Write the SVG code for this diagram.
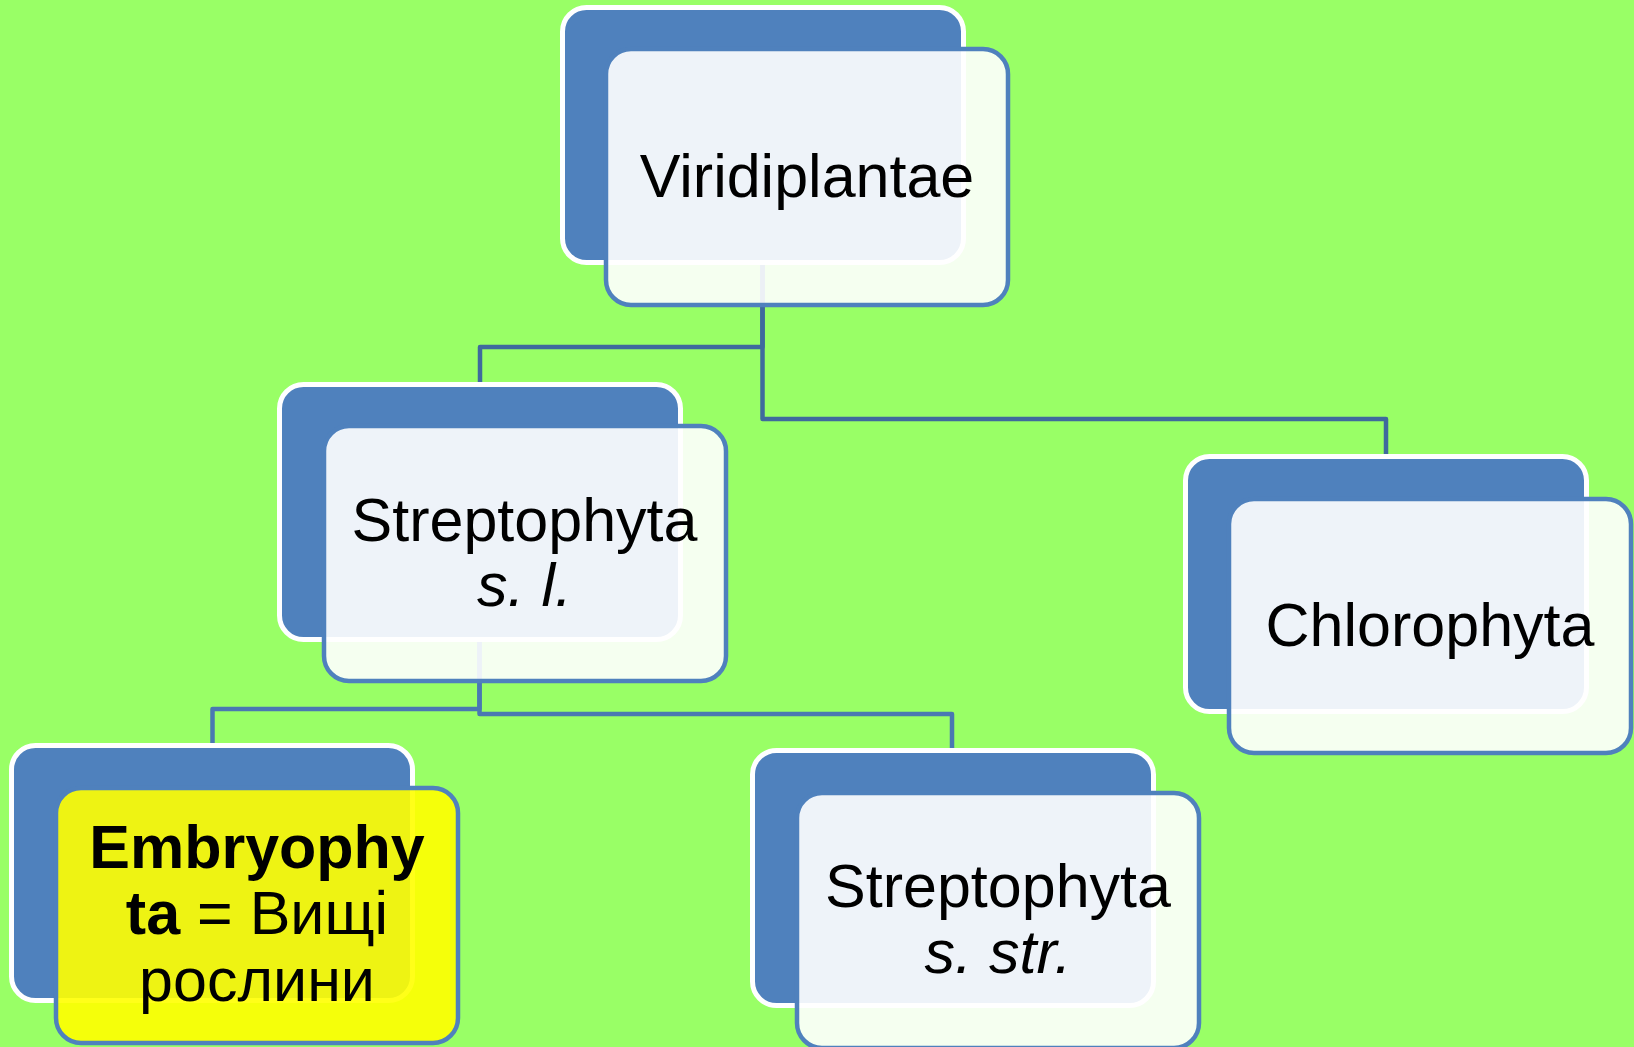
<svg xmlns="http://www.w3.org/2000/svg" width="1634" height="1047" viewBox="0 0 1634 1047">
<style>
.back{fill:#4F81BD;stroke:#FFFFFF;stroke-width:5}
.front{fill:#FFFFFF;fill-opacity:0.9;stroke:#4F81BD;stroke-width:4.5}
.front.hl{fill:#FFFF00}
.conn{fill:none;stroke-width:4.5;stroke-linejoin:round}
.c1{stroke:#3F6A9D}
.c2{stroke:#4A78B2}
text{font-family:"Liberation Sans",Arial,sans-serif;font-size:61px;fill:#000000;text-anchor:middle}
.it{font-style:italic}
.b{font-weight:bold}
</style>
<rect width="1634" height="1047" fill="#99FF66"/>
<g id="connectors">
<path class="conn c1" d="M762.5,265 V347 H480 V382"/>
<path class="conn c1" d="M762.5,265 V419 H1386 V454"/>
<path class="conn c2" d="M479.5,641 V709 H212.5 V743"/>
<path class="conn c2" d="M479.5,641 V714 H952 V748"/>
</g>
<g id="node-viridiplantae">
<rect class="back" x="562.5" y="7.5" width="401" height="255" rx="24"/>
<rect class="front" x="606" y="49" width="402" height="256" rx="25"/>
<text x="807" y="197">Viridiplantae</text>
</g>
<g id="node-streptophyta-sl">
<rect class="back" x="279.5" y="384.5" width="401" height="255" rx="24"/>
<rect class="front" x="324" y="426" width="402" height="255" rx="25"/>
<text x="524.5" y="541">Streptophyta</text>
<text class="it" x="524.5" y="606">s. l.</text>
</g>
<g id="node-chlorophyta">
<rect class="back" x="1185.5" y="456.5" width="401" height="255" rx="24"/>
<rect class="front" x="1229" y="499" width="402" height="254" rx="25"/>
<text x="1430" y="646">Chlorophyta</text>
</g>
<g id="node-embryophyta">
<rect class="back" x="11.5" y="745.5" width="401" height="255" rx="24"/>
<rect class="front hl" x="56" y="788" width="402" height="255" rx="25"/>
<text class="b" x="257" y="868">Embryophy</text>
<text x="257" y="934"><tspan class="b">ta</tspan> = Вищі</text>
<text x="257" y="1001">рослини</text>
</g>
<g id="node-streptophyta-ss">
<rect class="back" x="752.5" y="750.5" width="401" height="255" rx="24"/>
<rect class="front" x="797" y="793" width="402" height="255" rx="25"/>
<text x="998" y="907">Streptophyta</text>
<text class="it" x="998" y="973">s. str.</text>
</g>
</svg>
